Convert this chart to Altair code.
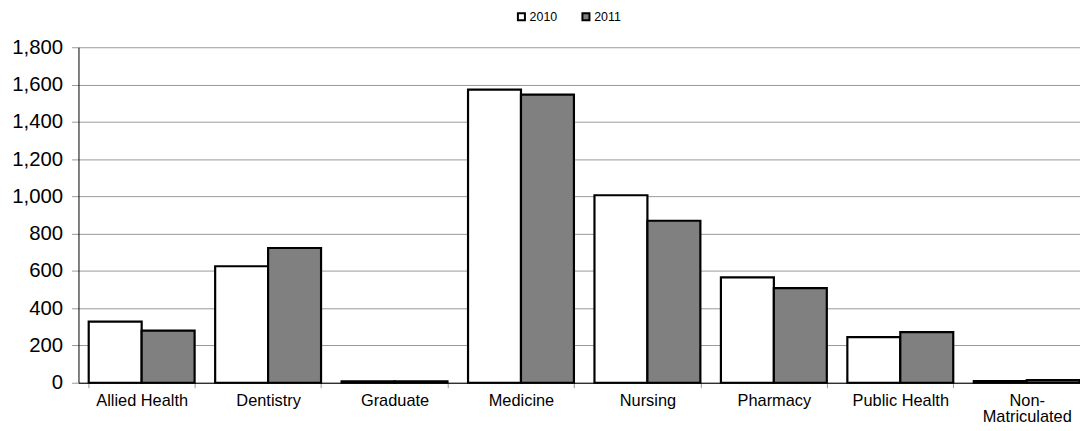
import altair as alt
import pandas as pd

categories = ["Allied Health", "Dentistry", "Graduate", "Medicine", "Nursing",
              "Pharmacy", "Public Health", "Non-Matriculated"]
values_2010 = [328, 625, 8, 1573, 1006, 565, 245, 9]
values_2011 = [280, 723, 7, 1546, 869, 508, 272, 14]
years = ["2010", "2011"]
colors = ["#ffffff", "#808080"]

rows = []
for c, a, b in zip(categories, values_2010, values_2011):
    rows.append({"category": c, "year": "2010", "value": a})
    rows.append({"category": c, "year": "2011", "value": b})
df = pd.DataFrame(rows)

FONT = "Liberation Sans"

chart = alt.Chart(df).mark_bar(stroke="black", strokeWidth=2.2).encode(
    x=alt.X("category:N", sort=categories, title=None,
            scale=alt.Scale(range=[0, 1019], paddingInner=0.1625, paddingOuter=0.081),
            axis=alt.Axis(labelAngle=0, labelFont=FONT, labelFontSize=16.5, labelColor="black",
                          tickBand="extent", tickSize=5, tickColor="#999999",
                          domain=True, domainColor="black", domainWidth=1,
                          labelPadding=5, labelLineHeight=16,
                          labelExpr="datum.label == 'Non-Matriculated' ? ['Non-', 'Matriculated'] : datum.label")),
    xOffset=alt.XOffset("year:N", sort=years, scale=alt.Scale(paddingInner=0, paddingOuter=0)),
    y=alt.Y("value:Q", title=None,
            scale=alt.Scale(domain=[0, 1800], nice=False),
            axis=alt.Axis(values=list(range(0, 1801, 200)), format=",d", labelFont=FONT,
                          labelFontSize=20.5, labelColor="black", tickSize=7, tickColor="#999999",
                          domainColor="black", domainWidth=1, gridColor="#999999", gridWidth=1,
                          labelPadding=9)),
    fill=alt.Fill("year:N", sort=years, scale=alt.Scale(domain=years, range=colors),
                  legend=alt.Legend(title=None, orient="none", direction="horizontal",
                                    legendX=440, legendY=-37, symbolType="square",
                                    symbolSize=50, symbolStrokeColor="black", symbolStrokeWidth=2,
                                    labelFont=FONT, labelFontSize=12.5, labelColor="black",
                                    columnPadding=20, symbolOffset=0, labelOffset=2)),
).properties(
    width=1009, height=338,
    autosize=alt.AutoSizeParams(type="none"),
    padding={"left": 71, "top": 38, "right": 0, "bottom": 38},
).configure_view(stroke=None).configure_axisX(grid=False)

chart.save("out.html", embed_options={"renderer": "svg", "actions": False})
